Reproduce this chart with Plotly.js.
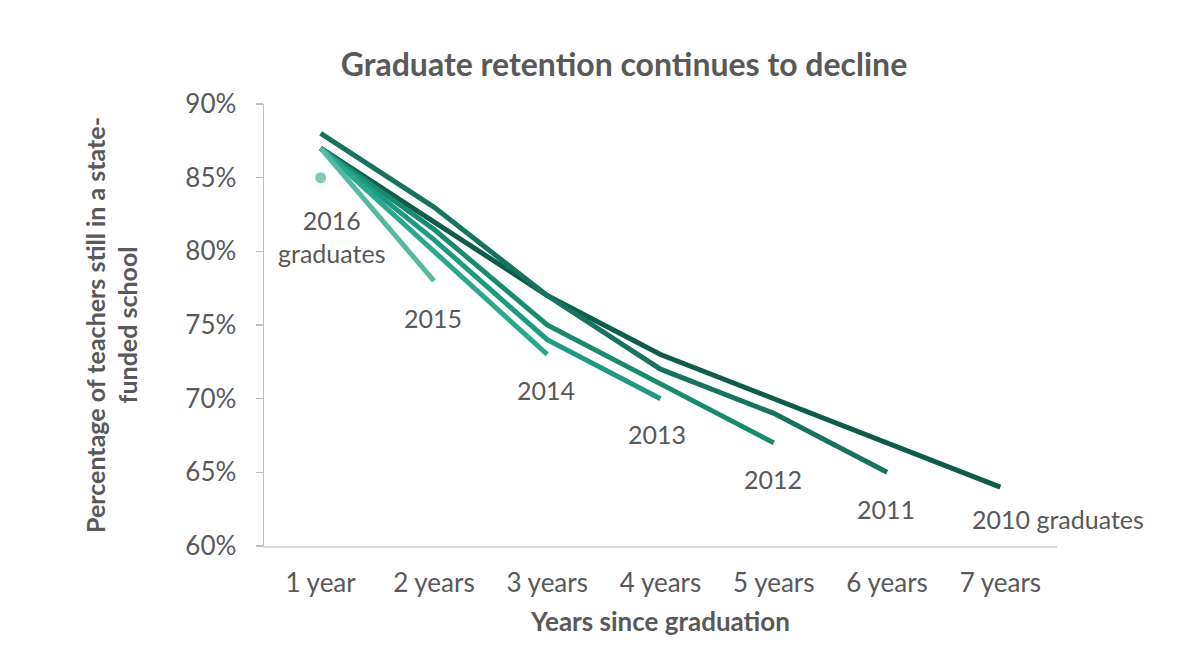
<!DOCTYPE html>
<html>
<head>
<meta charset="utf-8">
<script src="https://cdn.plot.ly/plotly-3.0.1.min.js"></script>
<style>html,body{margin:0;padding:0;background:#fff;}#chart{width:1200px;height:657px;}</style>
</head>
<body>
<div id="chart"></div>
<script>
var categories = ["1 year", "2 years", "3 years", "4 years", "5 years", "6 years", "7 years"];
var cohorts = ["2010", "2011", "2012", "2013", "2014", "2015", "2016"];
var v2010 = [87, 82, 77, 73, 70, 67, 64];
var v2011 = [88, 83, 77, 72, 69, 65];
var v2012 = [87, 81.5, 75, 71, 67];
var v2013 = [87, 80.8, 74, 70];
var v2014 = [87, 80, 73];
var v2015 = [87, 78];
var v2016 = [85];
var cohortLabels = ["2010 graduates", "2011", "2012", "2013", "2014", "2015", "2016<br>graduates"];
var yTickVals = [60, 65, 70, 75, 80, 85, 90];

var series = [v2010, v2011, v2012, v2013, v2014, v2015, v2016];
var colors = ["#0f5c4a", "#17735f", "#1a8a6e", "#1e9a80", "#2aa88c", "#55b9a1", "#7ecbb5"];
var font = "Lato, 'Open Sans', sans-serif";
var grey = "#595959";

var traces = series.map(function (vals, i) {
  return {
    x: categories.slice(0, vals.length),
    y: vals,
    name: cohorts[i],
    type: "scatter",
    mode: vals.length > 1 ? "lines" : "markers",
    line: {color: colors[i], width: 5},
    marker: {color: colors[i], size: 11},
    hoverinfo: "skip"
  };
});

// label positions: [category index, value, pixel shift]
var labelPos = [[6, 61.8, 58], [4.99, 62.5, 0], [3.99, 64.55, 0], [2.97, 67.6, 0], [1.99, 70.6, 0], [0.99, 75.5, 0], [0.1, 81.0, 0]];
var annotations = cohortLabels.map(function (txt, i) {
  return {
    x: labelPos[i][0], y: labelPos[i][1], xref: "x", yref: "y", xshift: labelPos[i][2],
    text: txt, showarrow: false,
    font: {family: font, size: 25, color: grey},
    xanchor: "center", yanchor: "middle"
  };
});

var layout = {
  width: 1200, height: 657,
  margin: {l: 264, r: 143, t: 104, b: 111},
  paper_bgcolor: "#fff", plot_bgcolor: "#fff",
  showlegend: false,
  title: {text: "<b>Graduate retention continues to decline</b>", x: 0.52, xanchor: "center", y: 0.902, yanchor: "middle",
          font: {family: font, size: 32, color: grey}},
  xaxis: {
    type: "category", range: [-0.5, 6.5],
    showgrid: false, zeroline: false,
    showline: true, linecolor: "#d9d9d9", linewidth: 1.5,
    ticks: "", tickfont: {family: font, size: 26, color: grey},
    ticklabelstandoff: 13,
    title: {text: "<b>Years since graduation</b>", font: {family: font, size: 26, color: grey}, standoff: 16}
  },
  yaxis: {
    range: [60, 90], tickvals: yTickVals,
    ticktext: yTickVals.map(function (v) { return v + "%"; }),
    showgrid: false, zeroline: false,
    showline: true, linecolor: "#bfbfbf", linewidth: 1.5,
    ticks: "outside", ticklen: 7, tickcolor: "#bfbfbf", tickwidth: 1.5,
    tickfont: {family: font, size: 26, color: grey},
    ticklabelstandoff: 14,
    title: {text: "<b>Percentage of teachers still in a state-<br>funded school</b>", font: {family: font, size: 25, color: grey}, standoff: 40}
  },
  annotations: annotations
};

Plotly.newPlot("chart", traces, layout, {displayModeBar: false, staticPlot: true});
</script>
</body>
</html>
